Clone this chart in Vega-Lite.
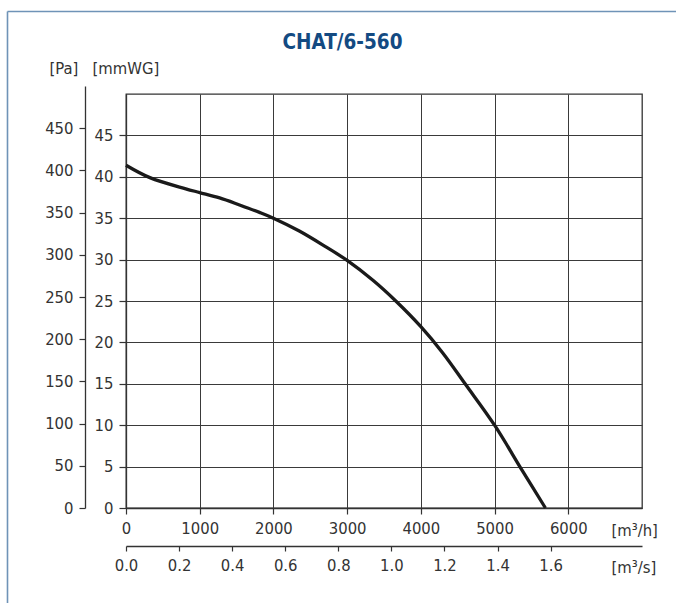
{
  "$schema": "https://vega.github.io/schema/vega-lite/v6.json",
  "autosize": {"type": "none"},
  "padding": {"left": 126, "top": 94, "right": 34, "bottom": 95},
  "width": 516,
  "height": 414,
  "config": {
    "view": {"stroke": "#333333", "strokeWidth": 1.3},
    "font": "DejaVu Sans Condensed",
    "axis": {
      "labelFont": "DejaVu Sans Condensed",
      "labelFontSize": 16.5,
      "labelColor": "#333333",
      "titleFont": "DejaVu Sans Condensed",
      "titleFontSize": 16.5,
      "titleFontWeight": "normal",
      "titleColor": "#333333",
      "domainColor": "#333333",
      "domainWidth": 1.3,
      "tickColor": "#333333",
      "tickWidth": 1.2,
      "gridColor": "#3a3a3a",
      "gridWidth": 1,
      "gridOpacity": 1
    }
  },
  "resolve": {
    "scale": {"x": "independent", "y": "independent"},
    "axis": {"x": "independent", "y": "independent"}
  },
  "layer": [
    {
      "data": {
        "values": [
          {"flow": 0, "mmwg": 41.4},
          {"flow": 324, "mmwg": 39.9},
          {"flow": 811, "mmwg": 38.55},
          {"flow": 1000, "mmwg": 38.1},
          {"flow": 1270, "mmwg": 37.45},
          {"flow": 1540, "mmwg": 36.6},
          {"flow": 1811, "mmwg": 35.7},
          {"flow": 2000, "mmwg": 35.0},
          {"flow": 2351, "mmwg": 33.45},
          {"flow": 2700, "mmwg": 31.6},
          {"flow": 3000, "mmwg": 29.9},
          {"flow": 3350, "mmwg": 27.5},
          {"flow": 3660, "mmwg": 25.0},
          {"flow": 4000, "mmwg": 21.9},
          {"flow": 4300, "mmwg": 18.7},
          {"flow": 4600, "mmwg": 15.0},
          {"flow": 5000, "mmwg": 10.0},
          {"flow": 5370, "mmwg": 4.6},
          {"flow": 5690, "mmwg": 0}
        ]
      },
      "mark": {"type": "line", "interpolate": "catmull-rom", "color": "#1a1a1a", "strokeWidth": 3.3},
      "encoding": {
        "x": {
          "field": "flow",
          "type": "quantitative",
          "scale": {"domain": [0, 7000], "nice": false},
          "axis": {
            "orient": "bottom",
            "values": [0, 1000, 2000, 3000, 4000, 5000, 6000],
            "format": "d",
            "grid": true,
            "tickSize": 6,
            "labelPadding": 6,
            "labelFlush": false,
            "title": "[m³/h]",
            "titleX": 485,
            "titleY": 22,
            "titleAlign": "left",
            "titleBaseline": "middle"
          }
        },
        "y": {
          "field": "mmwg",
          "type": "quantitative",
          "scale": {"domain": [0, 50], "nice": false},
          "axis": {
            "orient": "left",
            "values": [0, 5, 10, 15, 20, 25, 30, 35, 40, 45],
            "grid": true,
            "tickSize": 7,
            "labelPadding": 6,
            "title": "[mmWG]",
            "titleAngle": 0,
            "titleX": -34,
            "titleY": -26,
            "titleAlign": "left",
            "titleBaseline": "middle"
          }
        }
      }
    },
    {
      "data": {"values": [{"ms": 0, "pa": 0}]},
      "mark": {"type": "point", "opacity": 0},
      "encoding": {
        "x": {
          "field": "ms",
          "type": "quantitative",
          "scale": {"domain": [0, 1.94444], "nice": false},
          "axis": {
            "orient": "bottom",
            "offset": 38,
            "values": [0, 0.2, 0.4, 0.6, 0.8, 1.0, 1.2, 1.4, 1.6],
            "format": ".1f",
            "grid": false,
            "tickSize": 5,
            "labelPadding": 6,
            "labelFlush": false,
            "title": "[m³/s]",
            "titleX": 485,
            "titleY": 21,
            "titleAlign": "left",
            "titleBaseline": "middle"
          }
        },
        "y": {
          "field": "pa",
          "type": "quantitative",
          "scale": {"domain": [0, 500], "nice": false, "range": [414, -8]},
          "axis": {
            "orient": "left",
            "offset": 41,
            "values": [0, 50, 100, 150, 200, 250, 300, 350, 400, 450],
            "grid": false,
            "tickSize": 6,
            "labelPadding": 6,
            "title": "[Pa]",
            "titleAngle": 0,
            "titleX": -36,
            "titleY": -26,
            "titleAlign": "left",
            "titleBaseline": "middle"
          }
        }
      }
    },
    {
      "data": {"values": [{"fx": 0, "fy": 0}]},
      "mark": {"type": "point", "opacity": 0},
      "encoding": {
        "x": {
          "field": "fx",
          "type": "quantitative",
          "scale": {"domain": [0, 1], "nice": false, "range": [-119, 560]},
          "axis": {
            "orient": "top",
            "offset": 83,
            "values": [],
            "ticks": false,
            "labels": false,
            "grid": false,
            "domain": true,
            "domainColor": "#6f93b7",
            "domainWidth": 1.6,
            "title": "CHAT/6-560",
            "titleFont": "DejaVu Sans Condensed",
            "titleFontWeight": "bold",
            "titleFontSize": 20.5,
            "titleColor": "#134a82",
            "titleX": 216,
            "titleY": 37,
            "titleAlign": "center",
            "titleBaseline": "alphabetic"
          }
        },
        "y": {
          "field": "fy",
          "type": "quantitative",
          "scale": {"domain": [0, 1], "nice": false, "range": [520, -83]},
          "axis": {
            "orient": "left",
            "offset": 119,
            "values": [],
            "ticks": false,
            "labels": false,
            "grid": false,
            "domain": true,
            "domainColor": "#6f93b7",
            "domainWidth": 1.6,
            "title": null
          }
        }
      }
    }
  ]
}
